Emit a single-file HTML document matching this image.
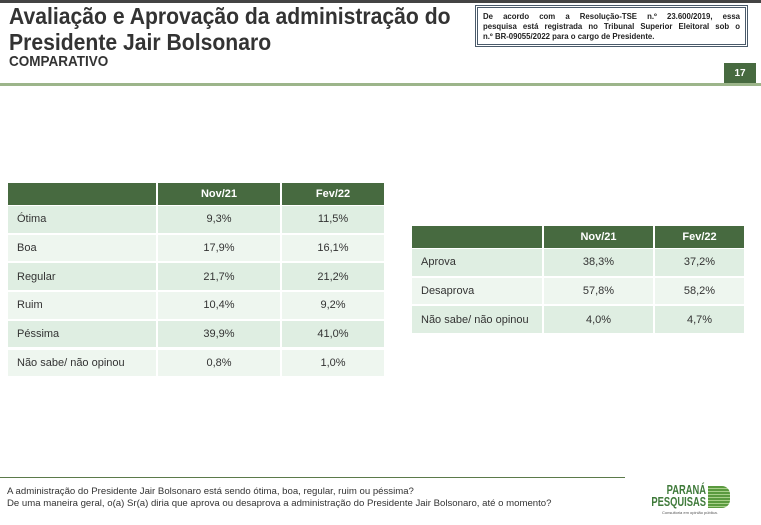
<!DOCTYPE html>
<html><head><meta charset="utf-8"><style>
body{margin:0;width:761px;height:525px;background:#fff;position:relative;overflow:hidden;font-family:"Liberation Sans",Arial,sans-serif}
.a{position:absolute}
.t{font-weight:bold;color:#333;transform-origin:0 0;transform:scaleX(.9);white-space:nowrap}
.c{position:absolute;font-size:11px;color:#333;display:flex;align-items:center;box-sizing:border-box}
.h{background:#476a40;color:#fff;font-weight:bold;justify-content:center}
.l{padding-left:9px}
.m{justify-content:center}
.j{text-align:justify;text-align-last:justify;white-space:nowrap}
</style></head><body>
<div class="a" style="left:0;top:0;width:761px;height:3px;background:#444"></div>
<div class="a t" style="left:9px;top:3px;font-size:23.5px;line-height:26px">Avaliação e Aprovação da administração do<br>Presidente Jair Bolsonaro</div>
<div class="a t" style="left:9px;top:53px;font-size:15px">COMPARATIVO</div>
<div class="a" style="left:475px;top:5px;width:273px;height:42px;border:3px double #4a5a6a;box-sizing:border-box;font-size:7.8px;font-weight:bold;color:#222;padding:4px 5px;line-height:10px">
<div class="j">De acordo com a Resolução-TSE n.º 23.600/2019, essa</div>
<div class="j">pesquisa está registrada no Tribunal Superior Eleitoral sob o</div>
<div style="white-space:nowrap">n.º BR-09055/2022 para o cargo de Presidente.</div></div>
<div class="a" style="left:724px;top:63px;width:32px;height:20px;background:#476a40;color:#fff;font-size:10px;font-weight:bold;display:flex;align-items:center;justify-content:center">17</div>
<div class="a" style="left:0;top:83px;width:761px;height:3px;background:#9cb58a"></div>

<div id="t1"></div>
<div id="t2"></div>

<div class="a" style="left:0;top:477px;width:625px;height:1px;background:#5b7a4a"></div>
<div class="a" style="left:7px;top:486px;font-size:9.6px;color:#333;line-height:12px;white-space:nowrap">A administração do Presidente Jair Bolsonaro está sendo ótima, boa, regular, ruim ou péssima?<br>De uma maneira geral, o(a) Sr(a) diria que aprova ou desaprova a administração do Presidente Jair Bolsonaro, até o momento?</div>

<div class="a" style="left:626px;top:484px;font-size:13px;font-weight:bold;color:#3f7a3a;line-height:12px;text-align:right;width:80px;white-space:nowrap;transform:scaleX(.72);transform-origin:100% 0">PARANÁ<br>PESQUISAS</div>
<div class="a" style="left:708px;top:486px;width:22px;height:22px;background:repeating-linear-gradient(#5a9a3f 0 2px,#a8d08a 2px 3px);border-radius:0 8px 8px 0"></div>
<div class="a" style="left:662px;top:510px;font-size:4px;color:#555">Consultoria em opinião pública.</div>

<script>
function tbl(id,x,cols,y,hh,rh,rows){
 var s='',xs=[x];for(var i=0;i<cols.length;i++)xs.push(xs[i]+cols[i]);
 var hd=['','Nov/21','Fev/22'];
 for(var j=0;j<3;j++)s+='<div class="c h" style="left:'+xs[j]+'px;top:'+y+'px;width:'+(cols[j]-2)+'px;height:'+hh+'px">'+hd[j]+'</div>';
 var yy=y+hh;
 rows.forEach(function(r,k){var bg=k%2?'#eef6ef':'#dfeee2';
  for(var j=0;j<3;j++)s+='<div class="c '+(j?'m':'l')+'" style="left:'+xs[j]+'px;top:'+(yy+1)+'px;width:'+(cols[j]-2)+'px;height:'+(rh-2)+'px;background:'+bg+'">'+r[j]+'</div>';
  yy+=rh;});
 document.getElementById(id).outerHTML=s;
}
tbl('t1',8,[150,124,104],183,22,28.7,[['Ótima','9,3%','11,5%'],['Boa','17,9%','16,1%'],['Regular','21,7%','21,2%'],['Ruim','10,4%','9,2%'],['Péssima','39,9%','41,0%'],['Não sabe/ não opinou','0,8%','1,0%']]);
tbl('t2',412,[132,111,91],226,22,28.7,[['Aprova','38,3%','37,2%'],['Desaprova','57,8%','58,2%'],['Não sabe/ não opinou','4,0%','4,7%']]);
</script>
</body></html>
